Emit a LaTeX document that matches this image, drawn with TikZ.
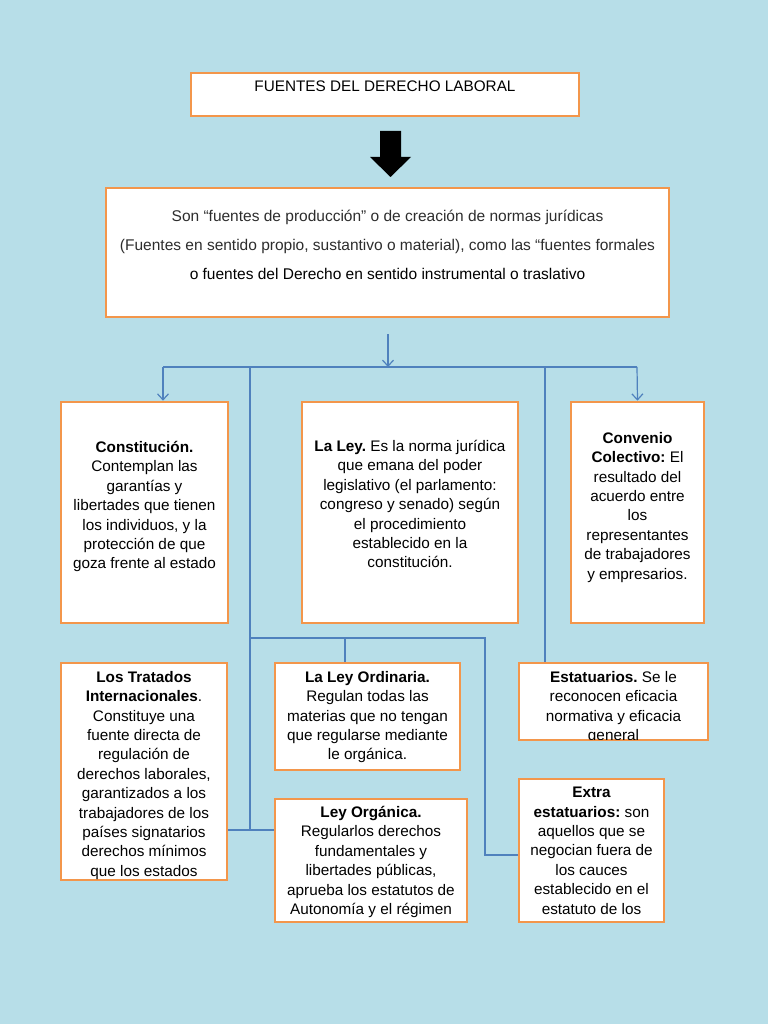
\documentclass[tikz,border=0pt]{standalone}
\usepackage{fontspec}
\setmainfont{Liberation Sans}
\usepackage{xcolor}
\usepackage{tikz}
\usetikzlibrary{arrows.meta,calc}
\definecolor{CelesteFondo}{RGB}{183,222,232}
\definecolor{NaranjaBorde}{RGB}{243,150,75}
\definecolor{AzulLinea}{RGB}{79,129,189}
\definecolor{GrisTexto}{RGB}{45,45,45}
\frenchspacing

\begin{document}
\begin{tikzpicture}[x=1pt,y=-1pt,>={Straight Barb[length=6pt,width=11pt]},
  caja/.style={draw=NaranjaBorde,line width=2.6pt,fill=white,inner sep=0pt},
  texto/.style={anchor=north,align=center,inner sep=0pt,
    font={\fontsize{15.3}{19.4}\selectfont}},
  conector/.style={AzulLinea,line width=1.2pt}]
  \fill[CelesteFondo] (0,0) rectangle (768,1024);
  \useasboundingbox (0,0) rectangle (768,1024);

  % cajas
  \node[caja,minimum width=388pt,minimum height=43pt] (titulo) at (385,94.5) {};
  \node[caja,minimum width=563pt,minimum height=129pt] (fuentes) at (387.5,252.5) {};
  \node[caja,minimum width=167pt,minimum height=221pt] (cons) at (144.5,512.5) {};
  \node[caja,minimum width=216pt,minimum height=221pt] (ley) at (410,512.5) {};
  \node[caja,minimum width=133pt,minimum height=221pt] (conv) at (637.5,512.5) {};
  \node[caja,minimum width=166pt,minimum height=217pt] (trat) at (144,771.5) {};
  \node[caja,minimum width=185pt,minimum height=107pt] (ordi) at (367.5,716.5) {};
  \node[caja,minimum width=189pt,minimum height=77pt] (esta) at (613.5,701.5) {};
  \node[caja,minimum width=145pt,minimum height=143pt] (extra) at (591.5,850.5) {};
  \node[caja,minimum width=192pt,minimum height=123pt] (orga) at (371,860.5) {};

  % flecha negra
  \fill (380,131) -- (401,131) -- (401,157) -- (411,157) -- (390.5,177)
    -- (370,157) -- (380,157) -- cycle;

  % textos
  \node[texto] (titulo-t) at (385,81) {FUENTES DEL DERECHO LABORAL};
  \node[texto,font={\fontsize{15.5}{29}\selectfont}] (fuentes-t) at (387.5,210)
    {\color{GrisTexto}Son “fuentes de producción” o de creación de normas jurídicas\\
     \color{GrisTexto}(Fuentes en sentido propio, sustantivo o material), como las “fuentes formales\\
     o fuentes del Derecho en sentido instrumental o traslativo};
  \node[texto] (cons-t) at (144.5,441)
    {\textbf{Constitución.}\\Contemplan las\\garantías y\\libertades que tienen\\
     los individuos, y la\\protección de que\\goza frente al estado};
  \node[texto] (ley-t) at (410,440)
    {\textbf{La Ley.} Es la norma jurídica\\que emana del poder\\
     legislativo (el parlamento:\\congreso y senado) según\\el procedimiento\\
     establecido en la\\constitución.};
  \node[texto] (conv-t) at (637.5,432)
    {\textbf{Convenio}\\\textbf{Colectivo:} El\\resultado del\\acuerdo entre\\los\\
     representantes\\de trabajadores\\y empresarios.};
  \node[texto] (trat-t) at (144,671)
    {\textbf{Los Tratados}\\\textbf{Internacionales}.\\Constituye una\\fuente directa de\\
     regulación de\\derechos laborales,\\garantizados a los\\trabajadores de los\\
     países signatarios\\derechos mínimos\\que los estados};
  \node[texto] (ordi-t) at (367.5,671)
    {\textbf{La Ley Ordinaria.}\\Regulan todas las\\materias que no tengan\\
     que regularse mediante\\le orgánica.};
  \begin{scope}
    \clip ([shift={(2,2)}]esta.north west) rectangle ([shift={(-2,-2)}]esta.south east);
    \node[texto] (esta-t) at (613.5,671)
      {\textbf{Estatuarios.} Se le\\reconocen eficacia\\normativa y eficacia\\general};
  \end{scope}
  \node[texto] (extra-t) at (591.5,787)
    {\textbf{Extra}\\\textbf{estatuarios:} son\\aquellos que se\\negocian fuera de\\
     los cauces\\establecido en el\\estatuto de los};
  \node[texto] (orga-t) at (371,806)
    {\textbf{Ley Orgánica.}\\Regularlos derechos\\fundamentales y\\libertades públicas,\\
     aprueba los estatutos de\\Autonomía y el régimen};

  % conectores
  \coordinate (inicio) at (388,334);
  \coordinate (bus) at (388,367);
  \coordinate (bizq) at (163,367);
  \coordinate (bder) at (637,367);
  \coordinate (ramaA) at (250,367);
  \coordinate (ramaB) at (545,367);
  \coordinate (nudo) at (250,830);
  \coordinate (rOrd) at (250,638);
  \coordinate (bOrd) at (345,638);
  \coordinate (esq) at (485,638);
  \coordinate (esqB) at (485,855);
  \draw[conector,->] (inicio) -- (bus);
  \draw[conector] (bizq) -- (bder);
  \draw[conector,->] (bizq) -- (bizq |- cons.north);
  \draw[conector,->] (bder) -- (conv.north);
  \draw[conector] (ramaA) -- (nudo);
  \draw[conector] (trat.east |- nudo) -- (orga.west |- nudo);
  \draw[conector] (ramaB) -- (ramaB |- esta.north);
  \draw[conector] (rOrd) -- (esq) -- (esqB) -- (extra.west |- esqB);
  \draw[conector] (bOrd) -- (bOrd |- ordi.north);
\end{tikzpicture}
\end{document}
